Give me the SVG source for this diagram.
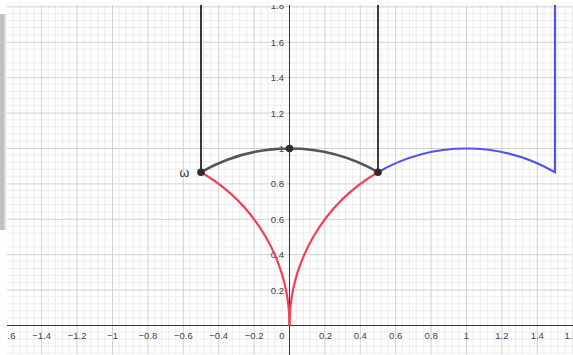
<svg xmlns="http://www.w3.org/2000/svg" width="573" height="355" viewBox="0 0 573 355">
<style>
.lbl{font-family:"Liberation Sans",Arial,sans-serif;font-size:9.5px;fill:#444}
.xl{text-anchor:middle}
.yl{text-anchor:end}
.blk{fill:none;stroke:#3a3a3a;stroke-width:2}
.arc{fill:none;stroke:#555;stroke-width:2.6}
.red{fill:none;stroke:#ef4258;stroke-width:2.2}
.blu{fill:none;stroke:#5252ee;stroke-width:2.2}
.pt{fill:#2e2e2e}
</style>
<defs>
<pattern id="grid" patternUnits="userSpaceOnUse" x="289.5" y="325.5" width="35.4" height="35.4">
<g fill="#ebebeb">
<rect x="6.58" y="0" width="1" height="35.4"/>
<rect x="13.66" y="0" width="1" height="35.4"/>
<rect x="20.74" y="0" width="1" height="35.4"/>
<rect x="27.82" y="0" width="1" height="35.4"/>
<rect x="0" y="6.58" width="35.4" height="1"/>
<rect x="0" y="13.66" width="35.4" height="1"/>
<rect x="0" y="20.74" width="35.4" height="1"/>
<rect x="0" y="27.82" width="35.4" height="1"/>
</g>
<g fill="#d0d0d0">
<rect x="0" y="0" width="1" height="35.4"/>
<rect x="0" y="0" width="35.4" height="1"/>
</g>
</pattern>
<linearGradient id="shadow" x1="0" y1="0" x2="1" y2="0">
<stop offset="0" stop-color="#c4c4c4"/>
<stop offset="0.45" stop-color="#bdbdbd"/>
<stop offset="1" stop-color="#ffffff"/>
</linearGradient>
<clipPath id="view"><rect x="7" y="5" width="566" height="350"/></clipPath>
</defs>
<rect x="0" y="0" width="573" height="355" fill="#ffffff"/>
<rect x="0" y="14" width="7" height="216" fill="url(#shadow)"/>
<g clip-path="url(#view)">
<g id="grid-bg">
<rect x="0" y="0" width="573" height="355" fill="url(#grid)" transform="translate(-0.5,-0.5)"/>
</g>
<g id="axes" stroke="#333" stroke-width="1">
<line x1="0" y1="325.5" x2="573" y2="325.5"/>
<line x1="289.5" y1="0" x2="289.5" y2="355"/>
</g>
<g id="axis-labels">
<text class="lbl" x="7.5" y="338.5">.6</text>
<text class="lbl xl" x="41.7" y="338.5">−1.4</text>
<text class="lbl xl" x="77.1" y="338.5">−1.2</text>
<text class="lbl xl" x="112.5" y="338.5">−1</text>
<text class="lbl xl" x="147.9" y="338.5">−0.8</text>
<text class="lbl xl" x="183.3" y="338.5">−0.6</text>
<text class="lbl xl" x="218.7" y="338.5">−0.4</text>
<text class="lbl xl" x="254.1" y="338.5">−0.2</text>
<text class="lbl xl" x="282" y="338.5">0</text>
<text class="lbl xl" x="325.5" y="338.5">0.2</text>
<text class="lbl xl" x="360.3" y="338.5">0.4</text>
<text class="lbl xl" x="395.7" y="338.5">0.6</text>
<text class="lbl xl" x="431.1" y="338.5">0.8</text>
<text class="lbl xl" x="466.5" y="338.5">1</text>
<text class="lbl xl" x="501.9" y="338.5">1.2</text>
<text class="lbl xl" x="537.3" y="338.5">1.4</text>
<text class="lbl" x="564.5" y="338.5">1.</text>
<text class="lbl yl" x="284" y="293.6">0.2</text>
<text class="lbl yl" x="284" y="258.2">0.4</text>
<text class="lbl yl" x="284" y="222.8">0.6</text>
<text class="lbl yl" x="284" y="187.4">0.8</text>
<text class="lbl yl" x="284" y="152">1</text>
<text class="lbl yl" x="284" y="116.6">1.2</text>
<text class="lbl yl" x="284" y="81.2">1.4</text>
<text class="lbl yl" x="284" y="45.8">1.6</text>
<text class="lbl yl" x="284" y="8.5">1.8</text>
</g>
<g id="connectors">
<path class="red" d="M289.5 325.5 A177 177 0 0 0 201 172.2"/>
<path class="red" d="M289.5 325.5 A177 177 0 0 1 378 172.2"/>
<path class="blu" d="M378 172.2 A177 177 0 0 1 555 172.2 V0"/>
<path class="blk" d="M201 172.2 V0"/>
<path class="blk" d="M378 172.2 V0"/>
<path class="arc" d="M201 172.2 A177 177 0 0 1 378 172.2"/>
</g>
<g id="point-A"><circle class="pt" cx="201" cy="172.2" r="3.8"/></g>
<g id="point-B"><circle class="pt" cx="289.5" cy="148.5" r="3.8"/></g>
<g id="point-C"><circle class="pt" cx="378" cy="172.2" r="3.8"/></g>
<g id="label-omega">
<text x="184.5" y="176.5" text-anchor="middle" font-family="'Liberation Sans',Arial,sans-serif" font-size="12.5" fill="#333">ω</text>
</g>
</g>
</svg>
